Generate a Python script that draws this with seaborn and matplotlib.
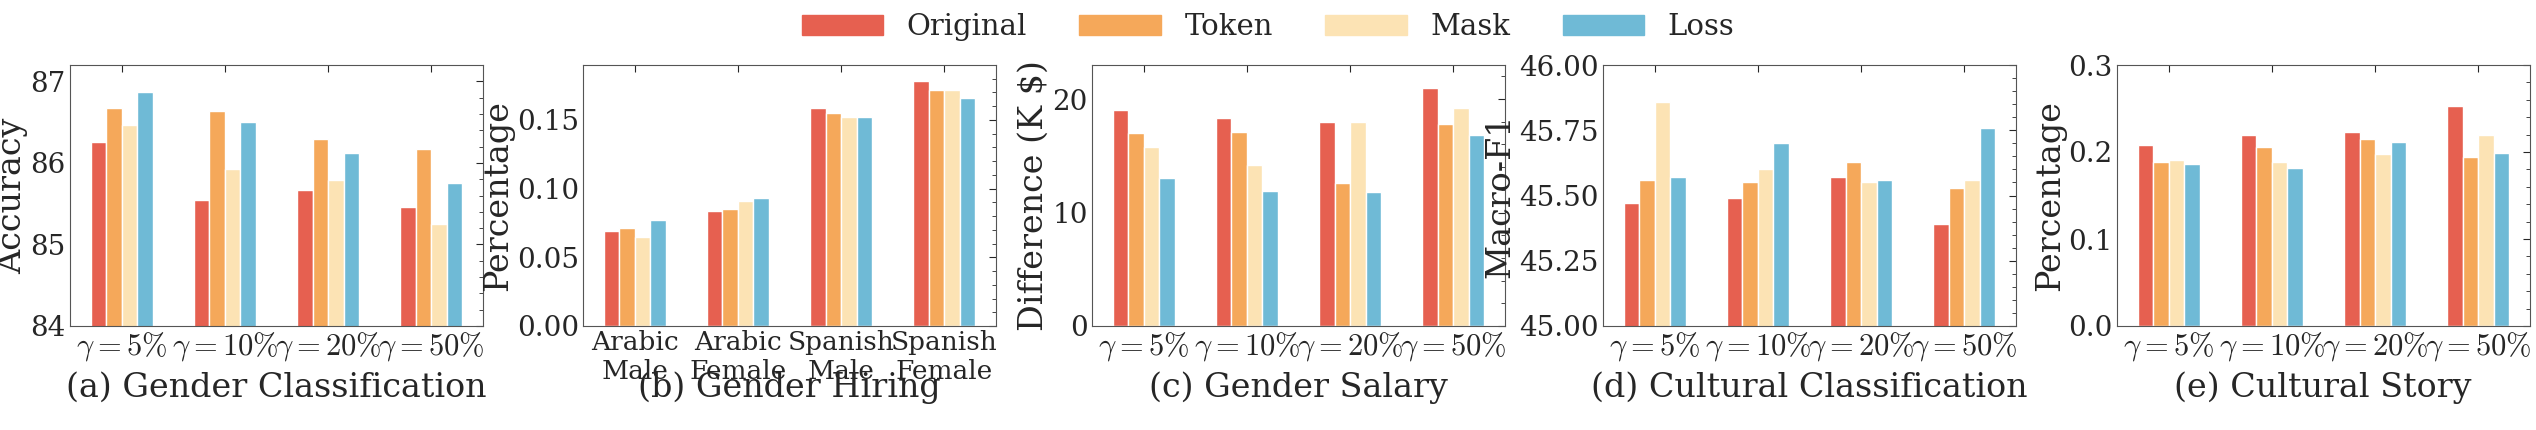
import numpy as np
import pandas as pd
import matplotlib
matplotlib.use("Agg")
import matplotlib.pyplot as plt
import seaborn as sns
from matplotlib.ticker import AutoMinorLocator

sns.set_style("white")
plt.rcParams["font.family"] = ["DejaVu Serif"]
plt.rcParams["mathtext.fontset"] = "cm"

methods = ["Original", "Token", "Mask", "Loss"]
colors = ["#E66050", "#F5A85A", "#FCE3B4", "#6FBAD6"]
gamma_labels = [r"$\gamma=5\%$", r"$\gamma=10\%$", r"$\gamma=20\%$", r"$\gamma=50\%$"]
hiring_labels = ["Arabic\nMale", "Arabic\nFemale", "Spanish\nMale", "Spanish\nFemale"]

gender_cls = {"Original": [86.25, 85.55, 85.67, 85.46], "Token": [86.67, 86.63, 86.29, 86.17],
              "Mask": [86.46, 85.92, 85.79, 85.25], "Loss": [86.87, 86.50, 86.12, 85.75]}
gender_hiring = {"Original": [0.069, 0.084, 0.159, 0.178], "Token": [0.071, 0.085, 0.155, 0.172],
                 "Mask": [0.065, 0.091, 0.152, 0.172], "Loss": [0.077, 0.093, 0.152, 0.166]}
gender_salary = {"Original": [19.0, 18.3, 18.0, 21.0], "Token": [17.0, 17.1, 12.6, 17.8],
                 "Mask": [15.8, 14.2, 18.0, 19.2], "Loss": [13.0, 11.9, 11.8, 16.8]}
cultural_cls = {"Original": [45.47, 45.49, 45.57, 45.39], "Token": [45.56, 45.55, 45.63, 45.53],
                "Mask": [45.86, 45.60, 45.55, 45.56], "Loss": [45.57, 45.70, 45.56, 45.76]}
cultural_story = {"Original": [0.208, 0.220, 0.223, 0.253], "Token": [0.189, 0.206, 0.215, 0.194],
                  "Mask": [0.191, 0.189, 0.198, 0.219], "Loss": [0.186, 0.182, 0.211, 0.199]}

panels = [
    (gender_cls, gamma_labels, "Accuracy", (84, 87.2), [84, 85, 86, 87], "(a) Gender Classification"),
    (gender_hiring, hiring_labels, "Percentage", (0, 0.19), [0, 0.05, 0.10, 0.15], "(b) Gender Hiring"),
    (gender_salary, gamma_labels, r"Difference (K \$)", (0, 23), [0, 10, 20], "(c) Gender Salary"),
    (cultural_cls, gamma_labels, "Macro-F1", (45, 46), [45, 45.25, 45.5, 45.75, 46], "(d) Cultural Classification"),
    (cultural_story, gamma_labels, "Percentage", (0, 0.3), [0, 0.1, 0.2, 0.3], "(e) Cultural Story"),
]
tick_fmt = ["{:.0f}", "{:.2f}", "{:.0f}", "{:.2f}", "{:.1f}"]

W, H = 2536, 430
lefts = [70, 583, 1092, 1603, 2117]
fig = plt.figure(figsize=(W / 100, H / 100), dpi=100)
for i, (data, cats, ylab, ylim, yt, title) in enumerate(panels):
    ax = fig.add_axes([lefts[i] / W, (H - 326) / H, 413 / W, (326 - 65) / H])
    df = pd.DataFrame([(c, m, data[m][j]) for m in methods for j, c in enumerate(cats)],
                      columns=["cat", "method", "val"])
    sns.barplot(data=df, x="cat", y="val", hue="method", hue_order=methods, palette=colors,
                width=0.6, ax=ax, legend=False, saturation=1)
    ax.set_ylim(*ylim)
    ax.set_yticks(yt)
    ax.set_yticklabels([tick_fmt[i].format(v) for v in yt])
    ax.set_xlabel("")
    ax.set_ylabel(ylab, fontsize=24, labelpad=2)
    ax.tick_params(axis="both", labelsize=20, direction="in", top=True, right=True, length=5, pad=3)
    ax.tick_params(axis="x", labelsize=22 if i != 1 else 19)
    ax.yaxis.set_minor_locator(AutoMinorLocator())
    ax.tick_params(which="minor", direction="in", top=True, right=True, length=3)
    for s in ax.spines.values():
        s.set_color("#555555")
    fig.text((lefts[i] + 206) / W, 1 - 388 / H, title, ha="center", va="center", fontsize=24)

handles = [plt.Rectangle((0, 0), 1, 1, color=c) for c in colors]
fig.legend(handles, methods, loc="upper center", ncol=4, frameon=False, fontsize=21,
           bbox_to_anchor=(0.5, 1.03), handlelength=2.8, columnspacing=1.8)
fig.savefig("out.png", dpi=100)
